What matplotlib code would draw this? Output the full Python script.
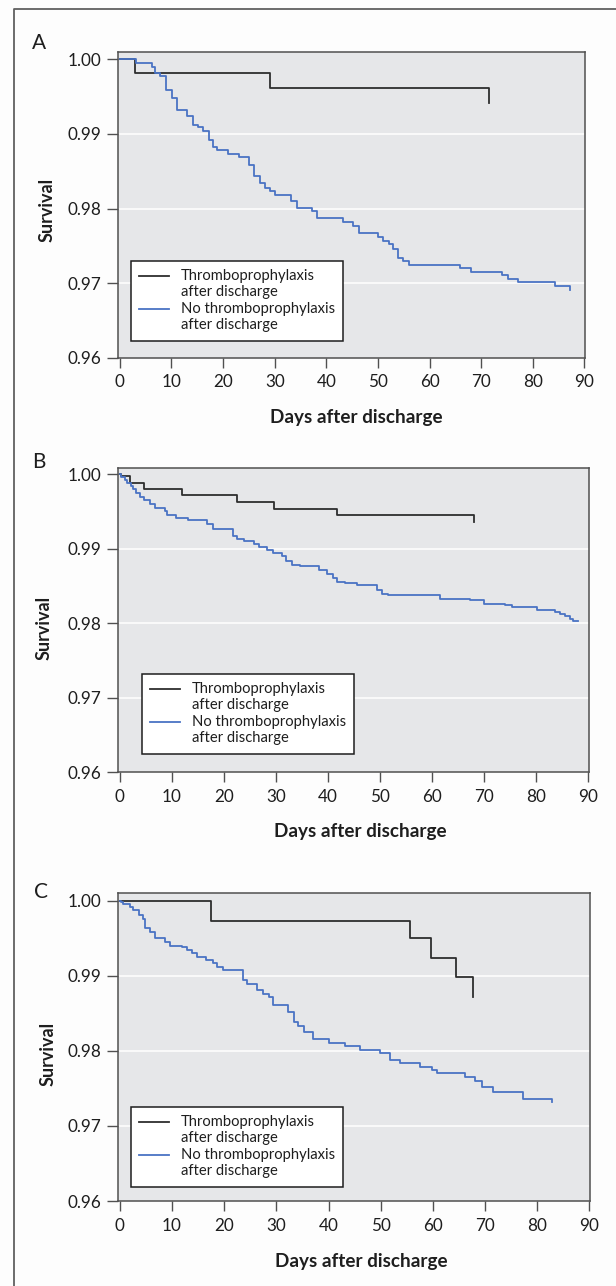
import matplotlib
matplotlib.use('Agg')
import matplotlib.pyplot as plt
from matplotlib.legend_handler import HandlerLine2D
from matplotlib.lines import Line2D
from matplotlib.ticker import FormatStrFormatter

# ---------------- data ----------------
x_ticks = [0, 10, 20, 30, 40, 50, 60, 70, 80, 90]
y_ticks = [0.96, 0.97, 0.98, 0.99, 1.00]
labels = ["Thromboprophylaxis\nafter discharge",
          "No thromboprophylaxis\nafter discharge"]
panel_letters = ["A", "B", "C"]
x_title = "Days after discharge"
y_title = "Survival"

# Panel A
a_proph_days = [0, 2.9, 29.0, 71.5]
a_proph_surv = [1.0, 0.9981, 0.9961, 0.9942]
a_none_days = [0, 3.1, 6.2, 6.8, 7.8, 8.9, 10.1, 11.1, 13.1, 14.1,
               15.1, 16.2, 17.2, 18.1, 18.9, 21.0, 23.0, 25.0, 25.9, 27.2,
               28.1, 29.1, 30.1, 33.2, 34.3, 37.2, 38.2, 43.2, 45.2, 46.4,
               50.1, 50.9, 52.2, 53.0, 53.9, 54.9, 56.1, 65.9, 68.0, 74.0,
               75.2, 77.2, 84.2, 87.2]
a_none_surv = [1.0, 0.99955, 0.99902, 0.99813, 0.99777, 0.99591, 0.9948, 0.99324, 0.99235, 0.99124,
               0.99093, 0.99044, 0.98924, 0.98826, 0.98782, 0.98737, 0.98688, 0.98582, 0.98435, 0.98346,
               0.9828, 0.98235, 0.98177, 0.98102, 0.98013, 0.97968, 0.97871, 0.97822, 0.97768, 0.97666,
               0.97613, 0.97568, 0.97524, 0.97457, 0.97337, 0.97302, 0.97244, 0.972, 0.97155, 0.97111,
               0.97057, 0.97013, 0.96955, 0.96902]

# Panel B
b_proph_days = [0, 0.3, 2.0, 4.7, 11.9, 22.6, 29.6, 41.7, 68.1]
b_proph_surv = [1.0, 0.9998, 0.99888, 0.99804, 0.99719, 0.99625, 0.9954, 0.99455, 0.99357]
b_none_days = [0, 0.3, 1.0, 1.45, 2.1, 2.6, 3.2, 3.9, 4.7, 5.8,
               6.8, 8.7, 9.0, 10.8, 13.2, 16.8, 18.0, 21.8, 22.5, 23.9,
               25.7, 26.8, 28.2, 29.5, 31.1, 31.9, 33.0, 34.6, 38.2, 39.8,
               41.0, 41.8, 43.3, 45.5, 49.4, 50.3, 51.6, 61.5, 67.3, 69.9,
               74.0, 75.3, 80.1, 83.6, 84.5, 85.5, 86.5, 87.0, 88.1]
b_none_surv = [1.0, 0.9997, 0.99924, 0.9988, 0.99844, 0.998, 0.99754, 0.997, 0.99656, 0.99598,
               0.99545, 0.99509, 0.99455, 0.99411, 0.99388, 0.99335, 0.99268, 0.99174, 0.9913, 0.99098,
               0.99062, 0.99022, 0.98987, 0.98942, 0.98897, 0.9883, 0.98777, 0.98763, 0.9871, 0.98665,
               0.98607, 0.98549, 0.9854, 0.98518, 0.98442, 0.98397, 0.98384, 0.9833, 0.98308, 0.98263,
               0.9825, 0.98214, 0.98174, 0.98152, 0.98125, 0.98094, 0.98058, 0.98027, 0.98027]

# Panel C
c_proph_days = [0, 17.5, 55.7, 59.7, 64.5, 67.6]
c_proph_surv = [1.0, 0.99734, 0.995, 0.99233, 0.9898, 0.98722]
c_none_days = [0, 0.2, 0.7, 1.95, 2.6, 3.7, 4.5, 4.8, 5.8, 6.8,
               8.7, 9.6, 11.9, 12.8, 13.8, 14.7, 16.6, 17.9, 18.6, 19.7,
               23.7, 24.3, 26.2, 27.5, 28.5, 29.4, 32.3, 33.3, 34.2, 35.3,
               37.1, 40.0, 43.2, 46.0, 49.9, 51.8, 53.7, 57.5, 59.8, 60.7,
               66.2, 68.1, 69.4, 71.6, 77.3, 82.8]
c_none_surv = [1.0, 0.99987, 0.99956, 0.9992, 0.99876, 0.9981, 0.99752, 0.99632, 0.99587, 0.995,
               0.99454, 0.99397, 0.9938, 0.99344, 0.99308, 0.99254, 0.9921, 0.99166, 0.99121, 0.99077,
               0.98944, 0.98891, 0.98811, 0.98758, 0.98714, 0.98611, 0.98522, 0.98389, 0.98332, 0.98256,
               0.98155, 0.98109, 0.98069, 0.98012, 0.97977, 0.97879, 0.97835, 0.9779, 0.97746, 0.97701,
               0.97657, 0.97603, 0.97515, 0.97457, 0.97355, 0.97325]

# ---------------- styling / layout ----------------
W, H, DPI = 616, 1286, 100
plt.rcParams['font.family'] = ['Lato', 'DejaVu Sans']

BG_FIG = '#fdfdfd'
BG_AX = '#e6e7e9'
C_PROPH = '#2e2e2e'
C_NONE = '#4a73c4'
C_SPINE = '#505050'
C_TEXT = '#1e1e1e'

fig = plt.figure(figsize=(W / DPI, H / DPI), dpi=DPI, facecolor=BG_FIG)


def fx(px):
    return px / W


def fy(py):
    return 1 - py / H


layouts = [
    dict(box=(117.5, 51.5, 585.0, 357.7), y100=59.3, x0=119.8, xs=5.163,
         leg=(131, 261), letter=(39, 43), ylab=(47, 210), xlab=(356, 417)),
    dict(box=(117.5, 467.7, 588.5, 772.3), y100=474.3, x0=119.8, xs=5.204,
         leg=(142, 674), letter=(39, 462), ylab=(44, 628), xlab=(360, 832)),
    dict(box=(117.5, 892.7, 589.5, 1201.0), y100=900.7, x0=119.8, xs=5.218,
         leg=(131, 1107), letter=(41, 892), ylab=(48, 1054), xlab=(361, 1261)),
]

series = [
    (a_proph_days, a_proph_surv, a_none_days, a_none_surv),
    (b_proph_days, b_proph_surv, b_none_days, b_none_surv),
    (c_proph_days, c_proph_surv, c_none_days, c_none_surv),
]


class FirstLineHandler(HandlerLine2D):
    """Place the legend line at the first line of a two-line label."""

    def __init__(self, dy=0.6, **kw):
        super().__init__(**kw)
        self.dy = dy

    def create_artists(self, legend, orig_handle, xdescent, ydescent,
                       width, height, fontsize, trans):
        arts = super().create_artists(legend, orig_handle, xdescent, ydescent,
                                      width, height, fontsize, trans)
        for a in arts:
            if isinstance(a, Line2D):
                a.set_ydata([v + self.dy * fontsize for v in a.get_ydata()])
        return arts


for lay, (pd, ps, nd, ns), letter in zip(layouts, series, panel_letters):
    l, t, r, b = lay['box']
    ax = fig.add_axes([fx(l), fy(b), fx(r - l), (b - t) / H])
    ax.set_facecolor(BG_AX)
    ppu = (b - lay['y100']) / 0.04
    ax.set_ylim(0.96, 1.0 + (lay['y100'] - t) / ppu)
    ax.set_xlim((l - lay['x0']) / lay['xs'], (r - lay['x0']) / lay['xs'])

    ln1, = ax.step(pd, ps, where='post', color=C_PROPH, lw=1.3, zorder=3)
    ln2, = ax.step(nd, ns, where='post', color=C_NONE, lw=1.3, zorder=3)

    ax.set_xticks(x_ticks)
    ax.set_yticks(y_ticks)
    ax.yaxis.set_major_formatter(FormatStrFormatter('%.2f'))
    ax.yaxis.grid(True, color='white', lw=1.1)
    ax.set_axisbelow(True)
    gls = ax.get_ygridlines()
    gls[0].set_visible(False)
    gls[-1].set_visible(False)

    for sp in ax.spines.values():
        sp.set_color(C_SPINE)
        sp.set_linewidth(1.1)
    ax.tick_params(axis='y', direction='out', length=8, width=1.0,
                   color=C_SPINE, labelsize=12.3, pad=3.5, labelcolor=C_TEXT)
    ax.tick_params(axis='x', direction='out', length=7.5, width=1.0,
                   color=C_SPINE, labelsize=12.3, pad=4.5, labelcolor=C_TEXT)

    leg = ax.legend([ln1, ln2], labels, loc='upper left',
                    bbox_to_anchor=(fx(lay['leg'][0]), fy(lay['leg'][1])),
                    bbox_transform=fig.transFigure, borderaxespad=0,
                    frameon=True, fancybox=False, framealpha=1,
                    facecolor='white', edgecolor='#1e1e1e', fontsize=10.6,
                    handlelength=2.0, handletextpad=0.85, labelspacing=0.2,
                    borderpad=0.55, handler_map={Line2D: FirstLineHandler(0.6)})
    leg.get_frame().set_linewidth(1.1)
    for txt in leg.get_texts():
        txt.set_color(C_TEXT)

    fig.text(fx(lay['letter'][0]), fy(lay['letter'][1]), letter,
             fontsize=15, ha='center', va='center', color=C_TEXT)
    fig.text(fx(lay['ylab'][0]), fy(lay['ylab'][1]), y_title, rotation=90,
             fontsize=13, fontweight='bold', ha='center', va='center',
             color=C_TEXT)
    fig.text(fx(lay['xlab'][0]), fy(lay['xlab'][1]), x_title,
             fontsize=13.6, fontweight='bold', ha='center', va='center',
             color=C_TEXT)

# outer frame (left and top edges only, as in the cropped figure)
fig.add_artist(Line2D([fx(14.3), fx(14.3), 1.0], [0.0, fy(9.3), fy(9.3)],
                      transform=fig.transFigure, color='#606060', lw=1.3))

fig.savefig('out.png', dpi=DPI, facecolor=BG_FIG)
